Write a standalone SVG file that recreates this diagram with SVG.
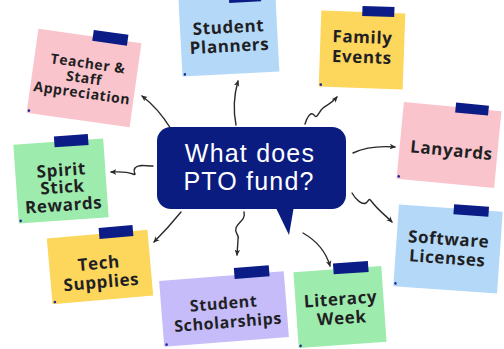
<svg xmlns="http://www.w3.org/2000/svg" width="504" height="349" viewBox="0 0 504 349">
<defs>
<style>
.note text{font-family:"Open Sans","Noto Sans",sans-serif;font-weight:700;font-size:16px;fill:#1f1f24;text-anchor:middle;letter-spacing:0.6px}
.tape{fill:#0b1c86}
.dot{fill:#1a2a9a}
.pink{fill:#f9c4cc}
.blue{fill:#b4d9f8}
.yellow{fill:#fdd65c}
.green{fill:#9debad}
.purple{fill:#c6bcfa}
.conn path{fill:none;stroke:#2a2a2a;stroke-width:1.4;stroke-linecap:round;marker-end:url(#ah)}
.title{font-family:"Liberation Sans",Arial,sans-serif;font-size:25px;letter-spacing:1.2px;fill:#ffffff;text-anchor:middle}
</style>
<marker id="ah" viewBox="0 0 8 8" refX="6" refY="4" markerWidth="7" markerHeight="7" orient="auto" markerUnits="userSpaceOnUse">
<path d="M0,0.8 L7,4 L0,7.2 L1.8,4 Z" fill="#2a2a2a"/>
</marker>
</defs>
<rect width="504" height="349" fill="#ffffff"/>

<g id="connectors" class="conn">
<path d="M171,129 Q158,108 142,96"/>
<path d="M236,125 C233,110 234,95 238,81"/>
<path d="M305,124 C307,117 311,111 314,115 C317,120 319,111 323,108 C327,105 331,104 337,97"/>
<path d="M353,153 Q370,145 395,147"/>
<path d="M352,193 C356,200 362,205 366,203 C370,200 368,197 372,202 C378,210 385,215 392,222"/>
<path d="M303,233 Q324,245 330,266"/>
<path d="M244,212 C246,220 238,222 236,228 C234,234 240,234 238,240 L237,255"/>
<path d="M181,212 Q168,228 154,242"/>
<path d="M153,166 C145,166 138,164 135,168 C132,172 138,176 133,174 C125,171 118,172 111,172"/>
</g>

<g id="teacher" class="note" transform="translate(84,78) rotate(8)">
<rect class="pink" x="-52" y="-42.5" width="104" height="85"/>
<rect class="tape" x="3" y="-49" width="35" height="11"/>
<circle class="dot" cx="-50" cy="40" r="1.3"/>
<text style="font-size:14px"><tspan x="2" y="-10">Teacher &amp;</tspan><tspan x="0" y="5">Staff</tspan><tspan x="0" y="20">Appreciation</tspan></text>
</g>

<g id="planners" class="note" transform="translate(229,37) rotate(-3)">
<rect class="blue" x="-48.5" y="-40" width="97" height="77"/>
<rect class="tape" x="2" y="-44" width="32" height="10"/>
<circle class="dot" cx="-46" cy="35" r="1.3"/>
<text style="font-size:17px"><tspan x="0" y="-4">Student</tspan><tspan x="0" y="15">Planners</tspan></text>
</g>

<g id="family" class="note" transform="translate(362,50) rotate(2)">
<rect class="yellow" x="-42" y="-38" width="84" height="76"/>
<rect class="tape" x="-1" y="-44" width="32" height="10"/>
<circle class="dot" cx="-40" cy="36" r="1.3"/>
<text style="font-size:17px"><tspan x="0" y="-7">Family</tspan><tspan x="0" y="13">Events</tspan></text>
</g>

<g id="lanyards" class="note" transform="translate(449,145) rotate(5.5)">
<rect class="pink" x="-49" y="-38.5" width="98" height="77"/>
<rect class="tape" x="3" y="-43" width="33" height="10"/>
<circle class="dot" cx="-47" cy="36" r="1.3"/>
<text style="font-size:17px"><tspan x="3" y="11">Lanyards</tspan></text>
</g>

<g id="software" class="note" transform="translate(448,249) rotate(4)">
<rect class="blue" x="-52" y="-41" width="104" height="82"/>
<rect class="tape" x="3" y="-45" width="35" height="10"/>
<circle class="dot" cx="-50" cy="38" r="1.3"/>
<text style="font-size:17px"><tspan x="0" y="-4">Software</tspan><tspan x="0" y="15">Licenses</tspan></text>
</g>

<g id="literacy" class="note" transform="translate(340,307) rotate(-4)">
<rect class="green" x="-44" y="-38" width="88" height="76"/>
<rect class="tape" x="-4" y="-44" width="35" height="11"/>
<circle class="dot" cx="-42" cy="36" r="1.3"/>
<text style="font-size:17px"><tspan x="1" y="-2">Literacy</tspan><tspan x="1" y="17">Week</tspan></text>
</g>

<g id="scholarships" class="note" transform="translate(224,309) rotate(-4.5)">
<rect class="purple" x="-62.5" y="-33" width="125" height="66"/>
<rect class="tape" x="13" y="-40" width="35" height="11"/>
<circle class="dot" cx="-60" cy="31" r="1.3"/>
<text style="font-size:16px"><tspan x="0" y="0">Student</tspan><tspan x="3" y="19">Scholarships</tspan></text>
</g>

<g id="tech" class="note" transform="translate(100,267) rotate(-5)">
<rect class="yellow" x="-50.5" y="-33" width="101" height="66"/>
<rect class="tape" x="2" y="-39" width="34" height="11"/>
<circle class="dot" cx="-48" cy="31" r="1.3"/>
<text style="font-size:17px"><tspan x="-1" y="2">Tech</tspan><tspan x="0" y="21">Supplies</tspan></text>
</g>

<g id="spirit" class="note" transform="translate(61,181) rotate(-4)">
<rect class="green" x="-45" y="-39.5" width="90" height="79"/>
<rect class="tape" x="-4" y="-45" width="34" height="11"/>
<circle class="dot" cx="-43" cy="37" r="1.3"/>
<text style="font-size:17px"><tspan x="1" y="-5">Spirit</tspan><tspan x="1" y="12">Stick</tspan><tspan x="1" y="30">Rewards</tspan></text>
</g>

<g id="center">
<rect x="157" y="127" width="189" height="82" rx="14" fill="#0b1c80"/>
<path d="M275,206 L294,206 L289,235 Z" fill="#0b1c80"/>
<text class="title"><tspan x="250" y="162">What does</tspan><tspan x="249" y="190">PTO fund?</tspan></text>
</g>
</svg>
